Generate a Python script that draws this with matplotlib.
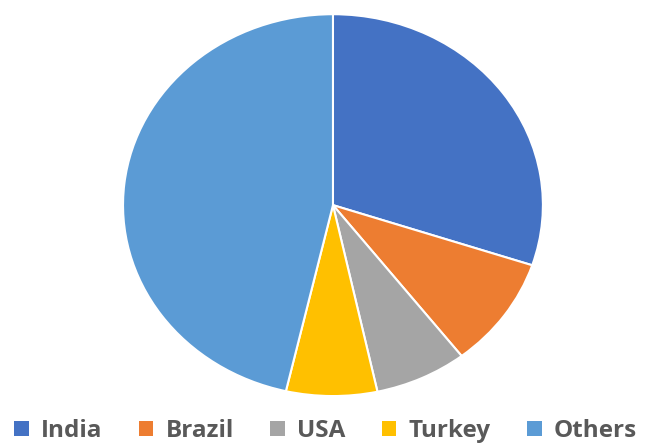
import matplotlib.pyplot as plt
from matplotlib.patches import Patch

# share of each country
labels = ['India', 'Brazil', 'USA', 'Turkey', 'Others']
shares = [30.1, 9.4, 7.1, 7.0, 46.4]
colors = ['#4472C4', '#ED7D31', '#A5A5A5', '#FFC000', '#5B9BD5']

fig = plt.figure(figsize=(6.53, 4.44), dpi=100)
ax = fig.add_axes([0.1884, 0.108, 0.643, 0.860])
ax.pie(shares, colors=colors, startangle=90, counterclock=False,
       wedgeprops=dict(edgecolor='white', linewidth=1.5))
ax.set_aspect('auto')
ax.set_xlim(-1, 1)
ax.set_ylim(-1, 1)
ax.axis('off')

# square legend keys
handles = [Patch(facecolor=c, edgecolor='none') for c in colors]
fig.legend(handles, labels, loc='center left', bbox_to_anchor=(14 / 653, 0.029), ncol=5,
           frameon=False, borderpad=0, borderaxespad=0,
           handlelength=0.6, handleheight=0.6, handletextpad=0.5, columnspacing=1.5,
           prop=dict(family='Open Sans', weight='bold', size=17.5), labelcolor='#595959')

fig.savefig('out.png', dpi=100)
